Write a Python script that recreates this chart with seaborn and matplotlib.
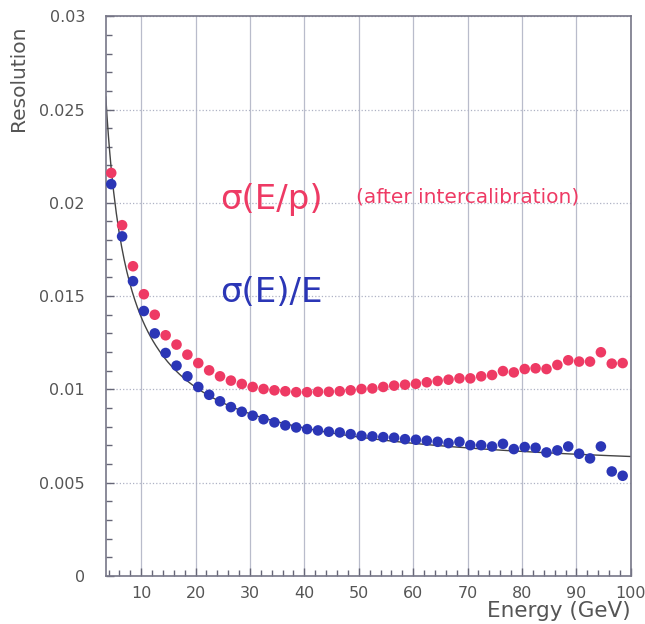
import numpy as np
import pandas as pd
import matplotlib
matplotlib.use('Agg')
import matplotlib.pyplot as plt
import seaborn as sns
from matplotlib.ticker import MultipleLocator

# beam energy bin centres (GeV)
energy = [4.5, 6.5, 8.5, 10.5, 12.5, 14.5, 16.5, 18.5, 20.5, 22.5,
          24.5, 26.5, 28.5, 30.5, 32.5, 34.5, 36.5, 38.5, 40.5, 42.5,
          44.5, 46.5, 48.5, 50.5, 52.5, 54.5, 56.5, 58.5, 60.5, 62.5,
          64.5, 66.5, 68.5, 70.5, 72.5, 74.5, 76.5, 78.5, 80.5, 82.5,
          84.5, 86.5, 88.5, 90.5, 92.5, 94.5, 96.5, 98.5]

# sigma(E/p) after intercalibration
res_ep = [0.0216, 0.0188, 0.0166, 0.0151, 0.0140, 0.0129, 0.0124, 0.01186, 0.01141, 0.01102,
          0.0107, 0.01047, 0.01029, 0.01013, 0.01002, 0.00995, 0.0099, 0.00985, 0.00985, 0.00987,
          0.00987, 0.0099, 0.00995, 0.01002, 0.01005, 0.01013, 0.0102, 0.01025, 0.0103, 0.01038,
          0.01045, 0.01052, 0.01059, 0.01059, 0.0107, 0.01077, 0.01098, 0.01091, 0.01109, 0.01113,
          0.01109, 0.01131, 0.01156, 0.01149, 0.01149, 0.01199, 0.01138, 0.01141]

# sigma(E)/E
res_e = [0.0210, 0.0182, 0.0158, 0.0142, 0.0130, 0.01195, 0.01127, 0.0107, 0.01013, 0.00971,
         0.00936, 0.00905, 0.0088, 0.00859, 0.0084, 0.00823, 0.00807, 0.00796, 0.00787, 0.0078,
         0.00773, 0.00769, 0.0076, 0.00751, 0.00748, 0.00744, 0.00741, 0.00733, 0.0073, 0.00725,
         0.00719, 0.00712, 0.00719, 0.00701, 0.00701, 0.00694, 0.00708, 0.0068, 0.00691, 0.00687,
         0.00662, 0.00673, 0.00694, 0.00655, 0.0063, 0.00694, 0.0056, 0.00537]

# fit sigma/E = a/sqrt(E) (+) b/E (+) c
fit_a, fit_b, fit_c = 0.0368, 0.0548, 0.00521

df = pd.DataFrame({'E': energy, 'ep': res_ep, 'e': res_e})

red = '#ee3a64'
blue = '#2b36b6'
grey = '#555555'

fig = plt.figure(figsize=(6.45, 6.24), dpi=100)
ax = fig.add_axes([0.164, 0.077, 0.814, 0.897])

ax.grid(which='major', axis='x', color='#b9bccb', linewidth=0.9, linestyle='-')
ax.grid(which='major', axis='y', color='#aeb2c4', linewidth=0.9, linestyle=':')
ax.set_axisbelow(True)

ee = np.linspace(3.5, 100, 400)
fit = np.sqrt(fit_a**2 / ee + fit_b**2 / ee**2 + fit_c**2)
sns.lineplot(x=ee, y=fit, ax=ax, color='#444444', linewidth=1.0, zorder=2)

sns.scatterplot(data=df, x='E', y='ep', ax=ax, color=red, s=58, edgecolor='none', zorder=3)
sns.scatterplot(data=df, x='E', y='e', ax=ax, color=blue, s=58, edgecolor='none', zorder=3)

ax.set_xlim(3.5, 100)
ax.set_ylim(0, 0.03)
ax.xaxis.set_major_locator(MultipleLocator(10))
ax.xaxis.set_minor_locator(MultipleLocator(2))
ax.yaxis.set_major_locator(MultipleLocator(0.005))
ax.yaxis.set_minor_locator(MultipleLocator(0.001))
ax.set_yticks([0, 0.005, 0.01, 0.015, 0.02, 0.025, 0.03])
ax.set_yticklabels(['0', '0.005', '0.01', '0.015', '0.02', '0.025', '0.03'])
ax.tick_params(which='both', direction='in', colors='#666677', labelcolor=grey,
               labelsize=11.5, top=False, right=False)
ax.tick_params(which='major', length=6, width=1)
ax.tick_params(which='minor', length=4, width=1)
ax.tick_params(axis='y', pad=15)
ax.tick_params(axis='x', pad=7)
for s in ax.spines.values():
    s.set_color('#777788')
    s.set_linewidth(1.2)

ax.set_xlabel('Energy (GeV)', fontsize=15.5, color=grey, loc='right', labelpad=0)
ax.set_ylabel('Resolution', fontsize=14.5, color=grey, loc='top')
ax.yaxis.set_label_coords(-0.149, 0.984)

ax.text(24.6, 0.0202, 'σ(E/p)', color=red, fontsize=24.5, va='center', ha='left')
ax.text(49.4, 0.0203, '(after intercalibration)', color=red, fontsize=14.5, va='center', ha='left')
ax.text(24.6, 0.0152, 'σ(E)/E', color=blue, fontsize=24.5, va='center', ha='left')

fig.savefig('out.png', dpi=100)
